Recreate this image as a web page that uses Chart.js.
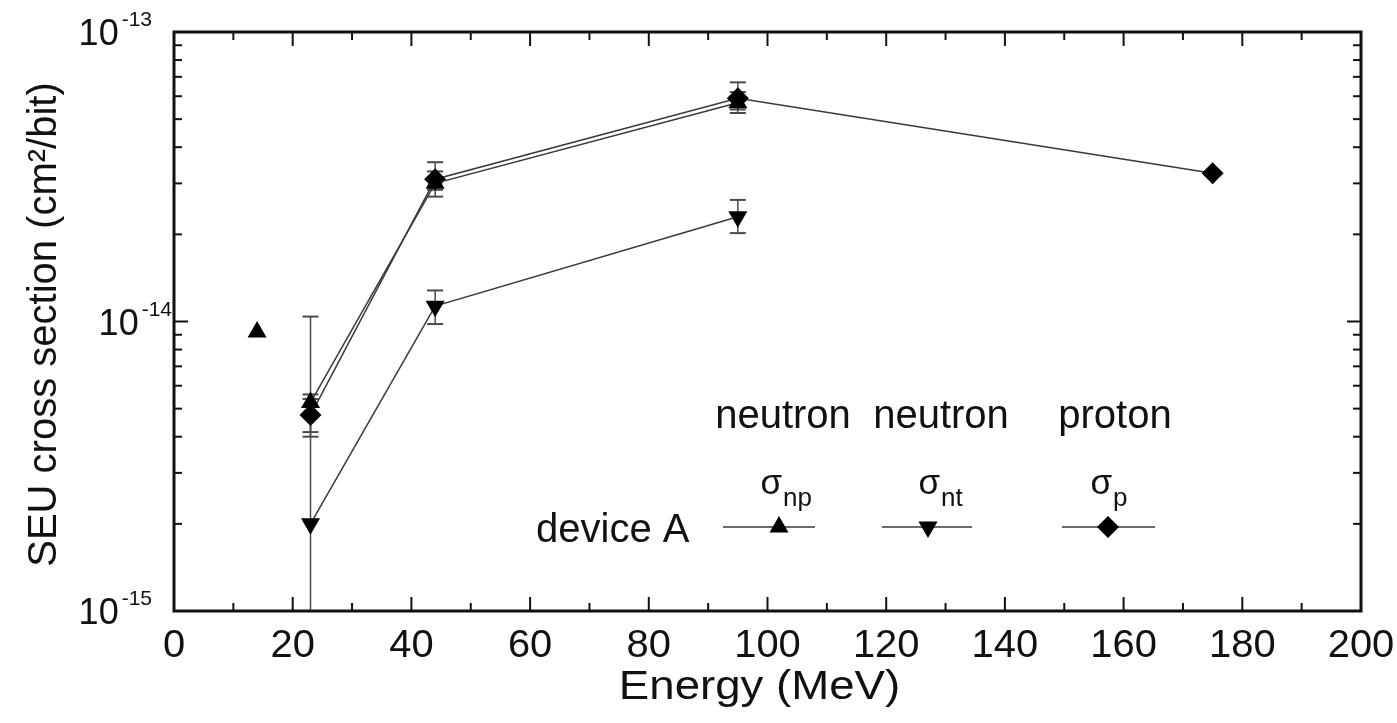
<!DOCTYPE html>
<html>
<head>
<meta charset="utf-8">
<script src="https://cdn.jsdelivr.net/npm/chart.js@4.4.1/dist/chart.umd.min.js"></script>
<style>
  html, body { margin: 0; padding: 0; background: #fff; }
  #wrap { width: 1397px; height: 723px; }
</style>
</head>
<body>
<div id="wrap"><canvas id="seuChart" width="1397" height="723"></canvas></div>
<script>
// sigma_np, neutron (device A)
const energyNp = [14, 23, 44, 95];
const sigmaNp = [9.2e-15, 5.25e-15, 3.0e-14, 5.7e-14];
const sigmaNpLow = [null, 4.15e-15, 2.85e-14, 5.4e-14];
const sigmaNpHigh = [null, 5.6e-15, 3.3e-14, 6.2e-14];

// sigma_nt, neutron (device A)
const energyNt = [23, 44, 95];
const sigmaNt = [2.0e-15, 1.13e-14, 2.3e-14];
const sigmaNtLow = [8.0e-16, 9.8e-15, 2.02e-14];
const sigmaNtHigh = [1.04e-14, 1.28e-14, 2.63e-14];

// sigma_p, proton (device A)
const energyP = [23, 44, 95, 175];
const sigmaP = [4.75e-15, 3.1e-14, 5.9e-14, 3.25e-14];
const sigmaPLow = [4.0e-15, 2.7e-14, 5.25e-14, null];
const sigmaPHigh = [5.4e-15, 3.55e-14, 6.7e-14, null];

const xTicks = [0, 20, 40, 60, 80, 100, 120, 140, 160, 180, 200];
const yTicks = [1e-15, 1e-14, 1e-13];
const yTickExp = ['-15', '-14', '-13'];

const FONT = '"Liberation Sans", Arial, sans-serif';
const INK = '#111';
const LINE = '#3a3a3a';

const toPoints = (xs, ys) => xs.map((x, i) => ({ x, y: ys[i] }));

const errorSets = [
  { xs: energyNp, lo: sigmaNpLow, hi: sigmaNpHigh },
  { xs: energyNt, lo: sigmaNtLow, hi: sigmaNtHigh },
  { xs: energyP, lo: sigmaPLow, hi: sigmaPHigh }
];

const errorBars = {
  id: 'errorBars',
  beforeDatasetsDraw(chart) {
    const { ctx, chartArea: a, scales: { x, y } } = chart;
    ctx.save();
    ctx.beginPath();
    ctx.rect(a.left, a.top, a.right - a.left, a.bottom - a.top);
    ctx.clip();
    ctx.strokeStyle = '#4a4a4a';
    errorSets.forEach(s => {
      s.xs.forEach((e, i) => {
        if (s.lo[i] == null) return;
        const px = x.getPixelForValue(e);
        const yl = y.getPixelForValue(s.lo[i]);
        const yh = y.getPixelForValue(s.hi[i]);
        ctx.lineWidth = 1.5;
        ctx.beginPath();
        ctx.moveTo(px, yl);
        ctx.lineTo(px, yh);
        ctx.stroke();
        ctx.lineWidth = 2;
        [yl, yh].forEach(py => {
          ctx.beginPath();
          ctx.moveTo(px - 8, py);
          ctx.lineTo(px + 8, py);
          ctx.stroke();
        });
      });
    });
    ctx.restore();
  }
};

// text squeezed or widened along x only
const wideText = (ctx, text, x, y, sx) => {
  ctx.save();
  ctx.translate(x, y);
  ctx.scale(sx, 1);
  ctx.fillText(text, 0, 0);
  ctx.restore();
};

// frame, inward ticks, tick labels, titles and the legend block
const frame = {
  id: 'frame',
  afterDraw(chart) {
    const { ctx, chartArea: a, scales: { x, y } } = chart;
    ctx.save();
    ctx.strokeStyle = INK;
    ctx.fillStyle = INK;

    ctx.lineWidth = 2;
    const tick = (x1, y1, x2, y2) => {
      ctx.beginPath(); ctx.moveTo(x1, y1); ctx.lineTo(x2, y2); ctx.stroke();
    };
    for (let v = 0; v <= 200; v += 10) {
      const px = x.getPixelForValue(v);
      const len = v % 20 === 0 ? 14 : 8;
      tick(px, a.bottom, px, a.bottom - len);
      tick(px, a.top, px, a.top + len);
    }
    yTicks.forEach((d, k) => {
      const last = k === yTicks.length - 1;
      for (let m = 1; m <= (last ? 1 : 9); m++) {
        const py = y.getPixelForValue(d * m);
        const len = m === 1 ? 14 : 8;
        tick(a.left, py, a.left + len, py);
        tick(a.right, py, a.right - len, py);
      }
    });

    ctx.lineWidth = 3;
    ctx.strokeRect(a.left, a.top, a.right - a.left, a.bottom - a.top);

    // x tick labels
    ctx.font = '38px ' + FONT;
    ctx.textAlign = 'center';
    ctx.textBaseline = 'alphabetic';
    xTicks.forEach(v => wideText(ctx, String(v), x.getPixelForValue(v), 657, 1.05));

    // y tick labels as 10 with a raised exponent
    yTicks.forEach((d, k) => {
      const py = y.getPixelForValue(d);
      const right = yTickExp[k] === '-14' ? 172 : 152;
      ctx.font = '21px ' + FONT;
      ctx.textAlign = 'right';
      const supW = ctx.measureText(yTickExp[k]).width;
      ctx.fillText(yTickExp[k], right, py - 6);
      ctx.font = '36px ' + FONT;
      ctx.fillText('10', right - supW - 3, py + 13);
    });

    // axis titles
    ctx.font = '40px ' + FONT;
    ctx.textAlign = 'center';
    wideText(ctx, 'Energy (MeV)', (a.left + a.right) / 2 - 8, 699, 1.14);
    ctx.save();
    ctx.translate(56, (a.top + a.bottom) / 2 + 3);
    ctx.rotate(-Math.PI / 2);
    ctx.fillText('SEU cross section (cm\u00b2/bit)', 0, 0);
    ctx.restore();

    // legend block
    ctx.font = '40px ' + FONT;
    ctx.textAlign = 'center';
    ctx.fillText('neutron', 783, 428);
    ctx.fillText('neutron', 941, 428);
    ctx.fillText('proton', 1115, 428);

    const sigma = (cx, sub) => {
      ctx.font = '35px ' + FONT;
      ctx.textAlign = 'left';
      const w = ctx.measureText('\u03c3').width;
      ctx.fillText('\u03c3', cx - w, 494);
      ctx.font = '26px ' + FONT;
      ctx.fillText(sub, cx + 1, 506);
    };
    sigma(782, 'np');
    sigma(940, 'nt');
    sigma(1112, 'p');

    ctx.font = '40px ' + FONT;
    ctx.textAlign = 'left';
    ctx.fillText('device A', 536, 542);

    const samples = [
      { x0: 723, x1: 815, cx: 779, style: 'triangle', rot: 0 },
      { x0: 882, x1: 972, cx: 928, style: 'triangle', rot: 180 },
      { x0: 1062, x1: 1155, cx: 1108, style: 'rectRot', rot: 0 }
    ];
    samples.forEach(s => {
      ctx.strokeStyle = LINE;
      ctx.lineWidth = 1.5;
      tick(s.x0, 527, s.x1, 527);
      ctx.fillStyle = '#000';
      Chart.helpers.drawPoint(ctx, { pointStyle: s.style, rotation: s.rot, radius: 11, borderWidth: 0 }, s.cx, 527);
    });
    ctx.restore();
  }
};

const lineDataset = (label, xs, ys, style, rot, extra) => Object.assign({
  label,
  data: toPoints(xs, ys),
  showLine: true,
  borderColor: LINE,
  borderWidth: 1.5,
  backgroundColor: '#000',
  pointBackgroundColor: '#000',
  pointBorderColor: '#000',
  pointBorderWidth: 0,
  pointStyle: style,
  rotation: rot,
  pointRadius: 11,
  tension: 0
}, extra || {});

new Chart(document.getElementById('seuChart'), {
  type: 'line',
  data: {
    datasets: [
      lineDataset('\u03c3np', energyNp, sigmaNp, 'triangle', 0, {
        // the 14 MeV point stands alone
        segment: { borderColor: c => c.p0DataIndex === 0 ? 'rgba(0,0,0,0)' : LINE }
      }),
      lineDataset('\u03c3nt', energyNt, sigmaNt, 'triangle', 180),
      lineDataset('\u03c3p', energyP, sigmaP, 'rectRot', 0)
    ]
  },
  options: {
    responsive: false,
    animation: false,
    layout: { padding: { left: 174, top: 32, right: 36, bottom: 112 } },
    scales: {
      x: { type: 'linear', min: 0, max: 200, display: false },
      y: { type: 'logarithmic', min: 1e-15, max: 1e-13, display: false }
    },
    plugins: {
      legend: { display: false },
      tooltip: { enabled: false }
    },
    clip: false
  },
  plugins: [errorBars, frame]
});
</script>
</body>
</html>
